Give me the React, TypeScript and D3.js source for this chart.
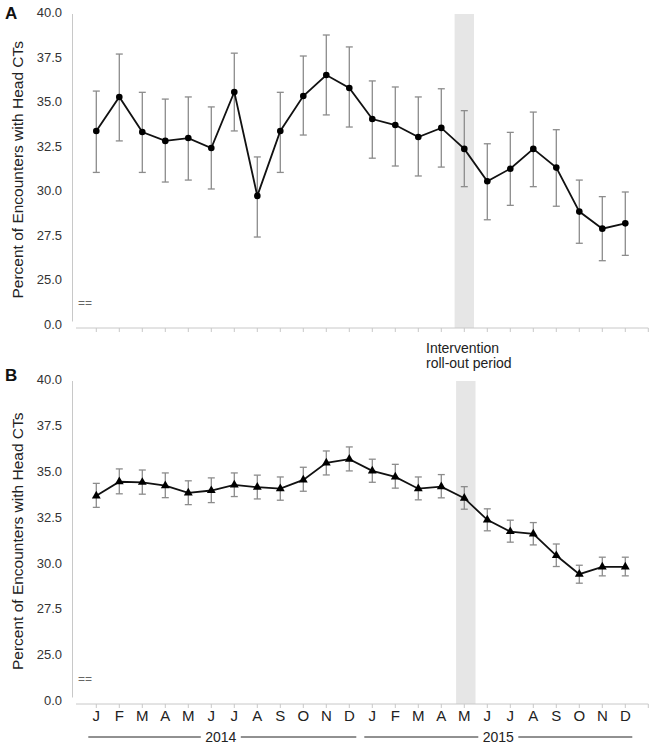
import React from "react";
import * as d3 from "d3";

const months = ["J","F","M","A","M","J","J","A","S","O","N","D","J","F","M","A","M","J","J","A","S","O","N","D"];
const years = ["2014", "2015"];
const yTicks = [22.5, 25, 27.5, 30, 32.5, 35, 37.5, 40];

const aValues = [33.43,35.34,33.37,32.87,33.03,32.47,35.62,29.78,33.43,35.39,36.57,35.84,34.1,33.76,33.09,33.6,32.42,30.6,31.31,32.42,31.37,28.9,27.94,28.24];
const aUpper = [35.67,37.75,35.6,35.22,35.34,34.78,37.8,31.97,35.6,37.64,38.82,38.15,36.24,35.9,35.34,35.8,34.57,32.71,33.35,34.49,33.5,30.67,29.74,30.0];
const aLower = [31.1,32.87,31.1,30.56,30.67,30.17,33.43,27.47,31.1,33.2,34.33,33.65,31.9,31.46,30.9,31.4,30.3,28.44,29.25,30.3,29.2,27.12,26.14,26.44];

const bValues = [33.73,34.5,34.47,34.29,33.89,34.02,34.33,34.2,34.12,34.6,35.53,35.73,35.09,34.76,34.12,34.23,33.6,32.42,31.78,31.65,30.47,29.45,29.85,29.85];
const bUpper = [34.41,35.2,35.14,34.98,34.55,34.71,34.98,34.86,34.76,35.29,36.18,36.4,35.73,35.45,34.76,34.89,34.23,33.02,32.4,32.27,31.1,29.94,30.38,30.38];
const bLower = [33.1,33.84,33.82,33.63,33.25,33.36,33.69,33.56,33.49,33.98,34.87,35.09,34.47,34.15,33.51,33.62,33.0,31.82,31.2,31.05,29.87,28.96,29.36,29.36];

const interventionIndex = 16;
const FONT = "'Liberation Sans', Arial, Helvetica, sans-serif";

const idx = months.map((_, i) => i);
const x = d3.scalePoint<number>().domain(idx).range([96.3, 625.3]);
const step = x.step();

type PanelProps = {
  label: string;
  top: number;
  bottom: number;
  values: number[];
  upper: number[];
  lower: number[];
  marker: "circle" | "triangle";
  showMonths: boolean;
  bandShift: number;
};

function Panel({ label, top, bottom, values, upper, lower, marker, showMonths, bandShift }: PanelProps) {
  const y = d3.scaleLinear().domain([22.5, 40]).range([bottom, top]);
  const axisY = bottom + 2.5;
  const line = d3.line<number>().x((_, i) => x(i)!).y((v) => y(v));
  const tri = d3.symbol().type(d3.symbolTriangle).size(34)();
  const bx = x(interventionIndex)! + bandShift;
  return (
    <g>
      <text x={5} y={top + (label === "A" ? 5 : 0)} fontFamily={FONT} fontWeight="bold" fontSize={17} fill="#111">{label}</text>
      <rect x={bx - 9.7} y={top} width={19.4} height={axisY - top} fill="#e6e6e6" />
      {/* y axis */}
      <line x1={72.5} x2={72.5} y1={top} y2={bottom - 4} stroke="#c8c8c8" strokeWidth={1} />
      {yTicks.map((t) => (
        <text key={t} x={62} y={y(t)} textAnchor="end" dominantBaseline="middle" fontFamily={FONT} fontSize={13} fill="#333">
          {t === 22.5 ? "0.0" : t.toFixed(1)}
        </text>
      ))}
      <text x={78} y={y(22.5) - 22} dominantBaseline="middle" fontFamily={FONT} fontSize={12} fill="#666">==</text>
      <text
        transform={`translate(23,${(top + bottom) / 2}) rotate(-90)`}
        textAnchor="middle"
        fontFamily={FONT}
        fontSize={15.5}
        fill="#222"
      >Percent of Encounters with Head CTs</text>
      {/* x axis */}
      <line x1={76} x2={x(23)! + step} y1={axisY} y2={axisY} stroke="#c8c8c8" strokeWidth={1} />
      {[...idx, 24].map((i) => {
        const xx = i === 24 ? x(23)! + step : x(i)!;
        return <line key={i} x1={xx} x2={xx} y1={axisY} y2={axisY + 4} stroke="#c8c8c8" strokeWidth={1} />;
      })}
      {showMonths && months.map((m, i) => (
        <text key={i} x={x(i)!} y={721} textAnchor="middle" fontFamily={FONT} fontSize={15} fill="#222">{m}</text>
      ))}
      {/* error bars */}
      {values.map((_, i) => {
        const xx = x(i)!;
        return (
          <g key={i} stroke="#8c8c8c" strokeWidth={1.3}>
            <line x1={xx} x2={xx} y1={y(upper[i])} y2={y(lower[i])} />
            <line x1={xx - 3.5} x2={xx + 3.5} y1={y(upper[i])} y2={y(upper[i])} />
            <line x1={xx - 3.5} x2={xx + 3.5} y1={y(lower[i])} y2={y(lower[i])} />
          </g>
        );
      })}
      <path d={line(values) || ""} fill="none" stroke="#111" strokeWidth={1.8} />
      {values.map((v, i) =>
        marker === "circle" ? (
          <circle key={i} cx={x(i)!} cy={y(v)} r={3.3} fill="#000" />
        ) : (
          <path key={i} d={tri || ""} transform={`translate(${x(i)!},${y(v)})`} fill="#000" />
        )
      )}
    </g>
  );
}

export default function App() {
  const yearGroups = years.map((yr, k) => {
    const first = k * 12;
    const last = k * 12 + 11;
    const x0 = x(first)! - 8;
    const x1 = x(last)! + 7;
    const c = (x(first)! + x(last)!) / 2 - (k === 0 ? 2 : 0.5);
    return { yr, x0, x1, c };
  });
  return (
    <div style={{ position: "absolute", left: 0, top: 0 }}>
      <svg width={656} height={748} style={{ display: "block" }}>
        <rect width={656} height={748} fill="#fff" />
        <Panel label="A" top={14} bottom={325.5} values={aValues} upper={aUpper} lower={aLower} marker="circle" showMonths={false} bandShift={0} />
        <Panel label="B" top={381} bottom={701.5} values={bValues} upper={bUpper} lower={bLower} marker="triangle" showMonths={true} bandShift={1.5} />
        <text x={426} y={353} fontFamily={FONT} fontSize={14} fill="#222">Intervention</text>
        <text x={426} y={368} fontFamily={FONT} fontSize={14} fill="#222">roll-out period</text>
        {yearGroups.map((g) => (
          <g key={g.yr}>
            <line x1={g.x0} x2={g.c - 20} y1={737} y2={737} stroke="#222" strokeWidth={1} />
            <line x1={g.c + 20} x2={g.x1} y1={737} y2={737} stroke="#222" strokeWidth={1} />
            <text x={g.c} y={742} textAnchor="middle" fontFamily={FONT} fontSize={14} fill="#222">{g.yr}</text>
          </g>
        ))}
      </svg>
    </div>
  );
}
